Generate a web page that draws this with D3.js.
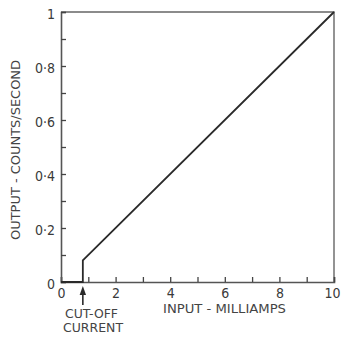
<!DOCTYPE html>
<html>
<head>
<meta charset="utf-8">
<script src="https://cdn.jsdelivr.net/npm/d3@7"></script>
<style>
  body { margin: 0; background: #fff; }
  svg text { font-family: "DejaVu Sans Condensed", "Liberation Sans Narrow", sans-serif; fill: #444; }
</style>
</head>
<body>
<svg id="chart" width="341" height="338"></svg>
<script>
// response curve: zero until cut-off, then linear up to full scale
const inputMa = [0, 0.8, 0.8, 10];
const outputCps = [0, 0, 0.08, 1];
const xTickValues = [0, 2, 4, 6, 8, 10];
const yTickValues = [0, 0.2, 0.4, 0.6, 0.8, 1];
const cutOff = 0.8;

const svg = d3.select("#chart");
const ink = "#3a3a3a";

const xScale = d3.scaleLinear().domain([0, 10]).range([61, 334]);
const yScale = d3.scaleLinear().domain([0, 1]).range([282, 12]);

// frame (top and right sides)
svg.append("path")
  .attr("d", "M" + xScale(0) + "," + yScale(1) + "H" + xScale(10) + "V" + yScale(0))
  .attr("fill", "none")
  .attr("stroke", "#666")
  .attr("stroke-width", 1.4);

const xAxis = d3.axisBottom(xScale)
  .tickValues(d3.range(0, 11, 1))
  .tickSize(-5)
  .tickFormat(d => xTickValues.includes(d) ? d : "");

const gx = svg.append("g")
  .attr("transform", "translate(0," + yScale(0) + ")")
  .call(xAxis);
gx.select(".domain").attr("stroke", "#555").attr("stroke-width", 1.6);
gx.selectAll(".tick line").attr("stroke", "#444").attr("stroke-width", 1.3);
gx.selectAll(".tick text")
  .attr("y", 6)
  .attr("font-size", 14)
  .style("fill", ink);
// last label sits against the right edge
gx.selectAll(".tick text").filter(d => d === 10)
  .attr("text-anchor", "end")
  .attr("x", 340 - xScale(10));

const yAxis = d3.axisLeft(yScale)
  .tickValues(d3.range(0, 11, 1).map(d => d / 10))
  .tickSize(-5)
  .tickFormat(d => yTickValues.some(v => Math.abs(v - d) < 1e-9) ? (d === 0 || d === 1 ? d : String(d).replace(".", "·")) : "");

const gy = svg.append("g")
  .attr("transform", "translate(" + xScale(0) + ",0)")
  .call(yAxis);
gy.select(".domain").attr("stroke", "#555").attr("stroke-width", 1.6);
gy.selectAll(".tick line").attr("stroke", "#444").attr("stroke-width", 1.3);
gy.selectAll(".tick text")
  .attr("x", -6)
  .attr("dy", "0.45em")
  .attr("font-size", 14)
  .style("fill", ink);

// the curve
const line = d3.line()
  .x((d, i) => xScale(inputMa[i]))
  .y(d => yScale(d));

svg.append("path")
  .datum(outputCps)
  .attr("d", line)
  .attr("fill", "none")
  .attr("stroke", "#2a2a2a")
  .attr("stroke-width", 1.8);

// cut-off arrow
const ax = xScale(cutOff);
svg.append("line")
  .attr("x1", ax).attr("x2", ax)
  .attr("y1", 305).attr("y2", 292)
  .attr("stroke", "#2a2a2a")
  .attr("stroke-width", 1.6);
svg.append("path")
  .attr("d", "M" + ax + ",286 L" + (ax - 3.2) + ",295 L" + (ax + 3.2) + ",295 Z")
  .attr("fill", "#2a2a2a");

svg.append("text")
  .attr("x", 65)
  .attr("y", 318)
  .attr("font-size", 13)
  .attr("textLength", 53)
  .attr("lengthAdjust", "spacingAndGlyphs")
  .text("CUT-OFF");

svg.append("text")
  .attr("x", 63)
  .attr("y", 332)
  .attr("font-size", 13)
  .attr("textLength", 60)
  .attr("lengthAdjust", "spacingAndGlyphs")
  .text("CURRENT");

// axis titles
svg.append("text")
  .attr("x", 163)
  .attr("y", 313)
  .attr("font-size", 13)
  .attr("textLength", 123)
  .attr("lengthAdjust", "spacingAndGlyphs")
  .text("INPUT - MILLIAMPS");

svg.append("text")
  .attr("transform", "translate(20,240) rotate(-90)")
  .attr("font-size", 13)
  .attr("textLength", 180)
  .attr("lengthAdjust", "spacingAndGlyphs")
  .text("OUTPUT - COUNTS/SECOND");
</script>
</body>
</html>
